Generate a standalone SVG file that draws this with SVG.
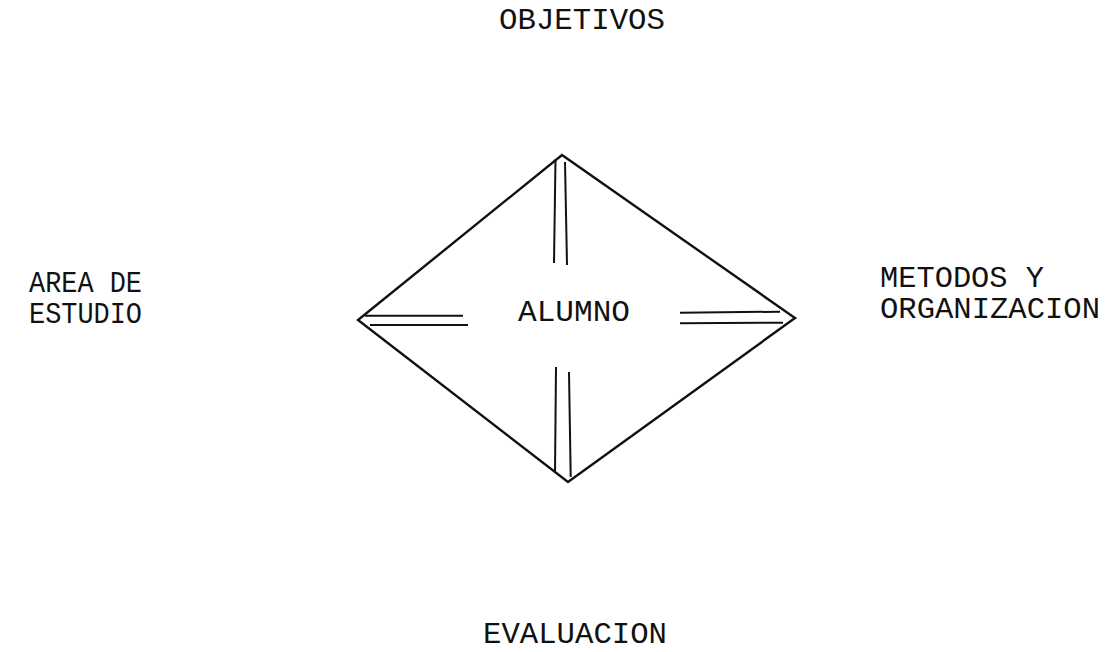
<svg xmlns="http://www.w3.org/2000/svg" width="1119" height="652" viewBox="0 0 1119 652">
<style>
.t{font-family:"Liberation Mono","Courier New",monospace;font-size:30px;fill:#111;}
.e{fill:none;stroke:#111;stroke-width:2.4;stroke-linejoin:miter;}
.c{fill:none;stroke:#111;stroke-width:2;stroke-linecap:butt;}
</style>
<rect width="1119" height="652" fill="#fff"/>
<g id="objetivos"><text class="t" x="499" y="29" textLength="166" lengthAdjust="spacingAndGlyphs">OBJETIVOS</text></g>
<g id="area"><text class="t" x="29" y="292" textLength="113" lengthAdjust="spacingAndGlyphs">AREA DE</text><text class="t" x="29" y="323" textLength="113" lengthAdjust="spacingAndGlyphs">ESTUDIO</text></g>
<g id="metodos"><text class="t" x="880" y="287" textLength="164" lengthAdjust="spacingAndGlyphs">METODOS Y</text><text class="t" x="880" y="318" textLength="220" lengthAdjust="spacingAndGlyphs">ORGANIZACION</text></g>
<g id="evaluacion"><text class="t" x="483" y="643" textLength="184" lengthAdjust="spacingAndGlyphs">EVALUACION</text></g>
<g id="alumno">
<polygon class="e" points="562,155 795,318 568,482 358,320"/>
<text class="t" x="518" y="321" textLength="112" lengthAdjust="spacingAndGlyphs">ALUMNO</text>
</g>
<g id="connectors">
<line class="c" x1="555.5" y1="159" x2="554" y2="263"/>
<line class="c" x1="565" y1="162" x2="567" y2="265"/>
<line class="c" x1="365" y1="315.7" x2="463" y2="315.7"/>
<line class="c" x1="370" y1="325" x2="468" y2="325"/>
<line class="c" x1="680" y1="312.7" x2="780" y2="311.7"/>
<line class="c" x1="680" y1="323.3" x2="783" y2="322.7"/>
<line class="c" x1="556" y1="367" x2="555" y2="473"/>
<line class="c" x1="569" y1="372" x2="570.7" y2="477"/>
</g>
</svg>
